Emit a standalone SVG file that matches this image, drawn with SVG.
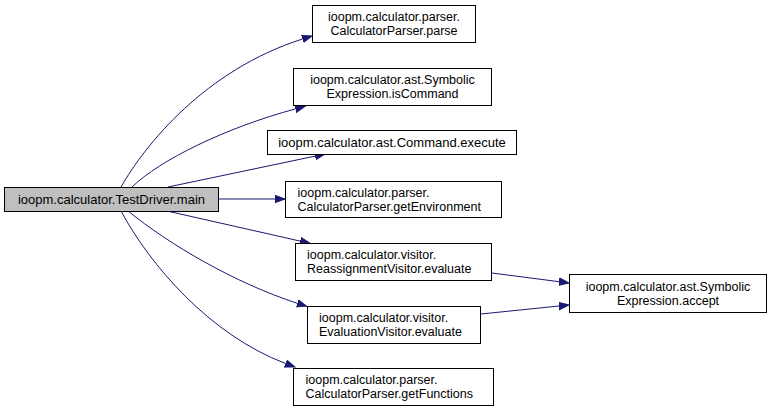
<svg xmlns="http://www.w3.org/2000/svg" width="772" height="412" viewBox="0 0 772 412">
<style>
.box{fill:#ffffff;stroke:#000000;stroke-width:1}
.root{fill:#bfbfbf;stroke:#000000;stroke-width:1}
text{font-family:"Liberation Sans",Arial,Helvetica,sans-serif;font-size:13px;fill:#000000}
.m{font-size:12.5px}
.c{text-anchor:middle}
.l{text-anchor:start}
.edge{fill:none;stroke:#191970;stroke-width:1;marker-end:url(#arr)}
</style>
<defs>
<marker id="arr" markerUnits="userSpaceOnUse" markerWidth="12" markerHeight="10" refX="0" refY="5" orient="auto" viewBox="0 0 12 10">
<path d="M0,1.3 L10,5 L0,8.7 Z" fill="#191970" stroke="#191970" stroke-width="1"/>
</marker>
</defs>
<rect width="772" height="412" fill="#ffffff"/>
<g id="connectors">
<path class="edge" d="M121,187 C145,145 205,70 302.5,39"/>
<path class="edge" d="M132,187 C160,160 225,128 295.4,108.9"/>
<path class="edge" d="M168,187 L315.2,156.1"/>
<path class="edge" d="M219,199 L275,199"/>
<path class="edge" d="M167,211 L300.2,241.1"/>
<path class="edge" d="M128,211 C170,245 235,283 297.3,303.3"/>
<path class="edge" d="M121,211 C150,265 210,335 285.6,363.5"/>
<path class="edge" d="M492,273 L559.1,281.7"/>
<path class="edge" d="M481,314 L559,306"/>
</g>
<g id="node-main">
<rect class="root" x="4.5" y="187.5" width="214" height="24"/>
<text class="c" x="111.5" y="203.5">ioopm.calculator.TestDriver.main</text>
</g>
<g id="node-parse">
<rect class="box" x="312.5" y="5.5" width="163" height="37"/>
<text class="c m" x="394" y="21">ioopm.calculator.parser.</text>
<text class="c m" x="394" y="35">CalculatorParser.parse</text>
</g>
<g id="node-isCommand">
<rect class="box" x="293.5" y="68.5" width="198" height="37"/>
<text class="c m" x="392.5" y="84">ioopm.calculator.ast.Symbolic</text>
<text class="c m" x="392.5" y="98">Expression.isCommand</text>
</g>
<g id="node-execute">
<rect class="box" x="267.5" y="130.5" width="249" height="24"/>
<text class="c" x="392" y="146.5">ioopm.calculator.ast.Command.execute</text>
</g>
<g id="node-getEnvironment">
<rect class="box" x="285.5" y="181.5" width="216" height="36"/>
<text class="l m" x="297.5" y="196.5">ioopm.calculator.parser.</text>
<text class="l m" x="297.5" y="210.5">CalculatorParser.getEnvironment</text>
</g>
<g id="node-reassignment">
<rect class="box" x="295.5" y="243.5" width="196" height="37"/>
<text class="l m" x="307" y="259">ioopm.calculator.visitor.</text>
<text class="l m" x="307" y="273">ReassignmentVisitor.evaluate</text>
</g>
<g id="node-evaluation">
<rect class="box" x="307.5" y="306.5" width="173" height="37"/>
<text class="l m" x="319" y="322">ioopm.calculator.visitor.</text>
<text class="l m" x="319" y="336">EvaluationVisitor.evaluate</text>
</g>
<g id="node-getFunctions">
<rect class="box" x="293.5" y="368.5" width="200" height="37"/>
<text class="l m" x="305.5" y="384">ioopm.calculator.parser.</text>
<text class="l m" x="305.5" y="398">CalculatorParser.getFunctions</text>
</g>
<g id="node-accept">
<rect class="box" x="569.5" y="274.5" width="197" height="38"/>
<text class="c m" x="668" y="291">ioopm.calculator.ast.Symbolic</text>
<text class="c m" x="668" y="305">Expression.accept</text>
</g>
</svg>
